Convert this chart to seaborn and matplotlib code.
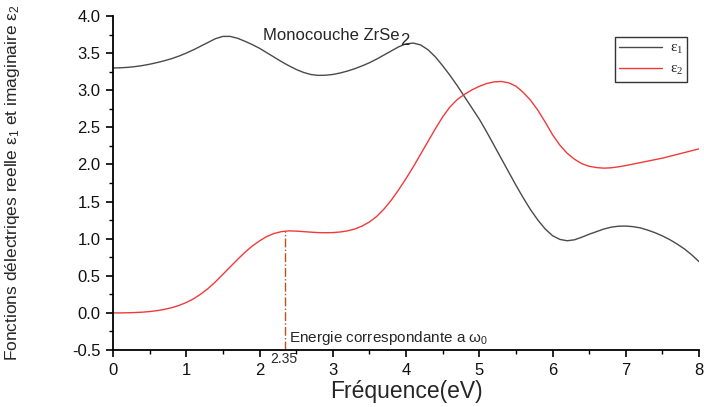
import numpy as np
import pandas as pd
import matplotlib
matplotlib.use("Agg")
import matplotlib.pyplot as plt
import seaborn as sns
from matplotlib.ticker import MultipleLocator

# Photon energy grid (eV), 0 to 8 in steps of 0.1
energy = np.round(np.arange(0, 81) * 0.1, 1)

# Real part of the dielectric function
eps1 = [3.300, 3.302, 3.308, 3.318, 3.332, 3.350, 3.372, 3.397, 3.425, 3.460,
        3.500, 3.545, 3.595, 3.645, 3.695, 3.725, 3.725, 3.700, 3.660, 3.615,
        3.565, 3.505, 3.445, 3.385, 3.330, 3.280, 3.240, 3.212, 3.200, 3.202,
        3.212, 3.232, 3.258, 3.290, 3.328, 3.370, 3.420, 3.475, 3.530, 3.585,
        3.625, 3.635, 3.610, 3.545, 3.450, 3.330, 3.200, 3.060, 2.910, 2.760,
        2.610, 2.440, 2.260, 2.080, 1.900, 1.720, 1.550, 1.390, 1.250, 1.130,
        1.040, 0.990, 0.972, 0.985, 1.020, 1.060, 1.095, 1.130, 1.155, 1.168,
        1.170, 1.162, 1.145, 1.115, 1.080, 1.037, 0.987, 0.928, 0.862, 0.782,
        0.690]

# Imaginary part of the dielectric function
eps2 = [0.000, 0.000, 0.002, 0.005, 0.010, 0.018, 0.030, 0.047, 0.070, 0.100,
        0.140, 0.190, 0.255, 0.330, 0.420, 0.520, 0.620, 0.720, 0.815, 0.900,
        0.970, 1.030, 1.070, 1.095, 1.105, 1.102, 1.095, 1.088, 1.082, 1.080,
        1.082, 1.090, 1.105, 1.130, 1.170, 1.225, 1.300, 1.400, 1.520, 1.660,
        1.810, 1.970, 2.140, 2.310, 2.480, 2.640, 2.775, 2.875, 2.945, 3.005,
        3.052, 3.090, 3.112, 3.118, 3.100, 3.055, 2.970, 2.865, 2.730, 2.570,
        2.400, 2.260, 2.150, 2.070, 2.010, 1.975, 1.958, 1.950, 1.955, 1.968,
        1.985, 2.005, 2.025, 2.045, 2.065, 2.085, 2.110, 2.135, 2.160, 2.185,
        2.210]

# Absorption onset energy and eps2 there
omega0 = 2.35
eps2_omega0 = 1.10

x_ticks = [0, 1, 2, 3, 4, 5, 6, 7, 8]
y_ticks = [-0.5, 0.0, 0.5, 1.0, 1.5, 2.0, 2.5, 3.0, 3.5, 4.0]

sns.set_style("ticks")
plt.rcParams["font.family"] = ["Liberation Sans", "DejaVu Sans"]

df = pd.DataFrame({"E": energy, "eps1": eps1, "eps2": eps2})

fig = plt.figure(figsize=(7.04, 4.07), dpi=100)
ax = fig.add_axes([0.1605, 0.140, 0.8325, 0.8207])

sns.lineplot(data=df, x="E", y="eps1", ax=ax, color="#4a4a4a", lw=1.0,
             label=r"$\mathregular{\varepsilon_1}$")
sns.lineplot(data=df, x="E", y="eps2", ax=ax, color="#f03a3a", lw=1.0,
             label=r"$\mathregular{\varepsilon_2}$")

ax.plot([omega0, omega0], [-0.5, eps2_omega0], color="#b5561e", lw=1.0,
        ls="-.")

ax.set_xlim(0, 8)
ax.set_ylim(-0.5, 4.0)
ax.set_xticks(x_ticks)
ax.set_yticks(y_ticks)
ax.set_yticklabels([f"{v:.1f}" for v in y_ticks])
ax.xaxis.set_minor_locator(MultipleLocator(0.5))
ax.yaxis.set_minor_locator(MultipleLocator(0.25))
ax.tick_params(which="major", length=5, width=1.2, labelsize=12, direction="out",
               color="black", labelcolor="#111111", pad=4)
ax.tick_params(which="minor", length=3, width=1.0, direction="out", color="black")
for s in ("left", "bottom"):
    ax.spines[s].set_linewidth(1.3)
    ax.spines[s].set_color("black")
sns.despine(ax=ax)

ax.set_xlabel("Fréquence(eV)", fontsize=16.5, labelpad=2)
ax.set_ylabel(r"Fonctions délectriqes reelle $\mathregular{\varepsilon_1}$ et imaginaire $\mathregular{\varepsilon_2}$",
              fontsize=12.5)
ax.yaxis.set_label_coords(-0.155, 0.5)

title = ax.text(2.05, 3.74, "Monocouche ZrSe", fontsize=12,
                va="center", ha="left")
ax.annotate("2", xy=(1, 0), xycoords=title, xytext=(0.5, -3.5),
            textcoords="offset points", fontsize=12, va="bottom", ha="left")
ax.text(2.40, -0.34, r"Energie correspondante a $\mathregular{\omega_0}$",
        fontsize=11, va="center", ha="left")
ax.text(2.33, -0.52, "2.35", fontsize=10, va="top", ha="center")

leg = ax.legend(loc="upper right", bbox_to_anchor=(0.98, 0.937), frameon=True,
                fancybox=False, edgecolor="black", handlelength=2.8,
                handletextpad=0.5, fontsize=11, borderpad=0.3,
                labelspacing=0.4, borderaxespad=0)
leg.get_frame().set_linewidth(1.0)
for t in leg.get_texts():
    t.set_family(["Liberation Serif", "DejaVu Serif"])

fig.savefig("out.png", dpi=100)
